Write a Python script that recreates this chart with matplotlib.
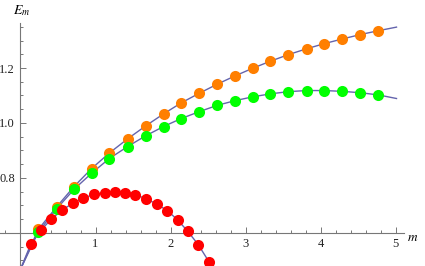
import matplotlib
matplotlib.use("Agg")
import matplotlib.pyplot as plt
from matplotlib.ticker import MultipleLocator
import numpy as np

plt.rcParams["font.family"] = "Liberation Serif"
plt.rcParams["mathtext.fontset"] = "stix"

# orange / green series share the same m values
m_og = [0.237, 0.484, 0.712, 0.948, 1.182, 1.427, 1.667, 1.906, 2.141, 2.381,
        2.62, 2.856, 3.092, 3.331, 3.571, 3.811, 4.05, 4.29, 4.53, 4.77]
e_orange = [0.612, 0.695, 0.768, 0.834, 0.890, 0.942, 0.989, 1.033, 1.073, 1.108,
            1.141, 1.171, 1.199, 1.225, 1.249, 1.270, 1.289, 1.306, 1.322, 1.336]
e_green = [0.603, 0.688, 0.758, 0.817, 0.870, 0.914, 0.953, 0.987, 1.016, 1.041,
           1.064, 1.081, 1.095, 1.106, 1.114, 1.118, 1.118, 1.115, 1.110, 1.102]

m_red = [0.136, 0.269, 0.41, 0.549, 0.695, 0.836, 0.979, 1.121, 1.258, 1.392,
         1.529, 1.671, 1.813, 1.955, 2.093, 2.23, 2.368, 2.51]
e_red = [0.558, 0.609, 0.649, 0.682, 0.707, 0.726, 0.740, 0.746, 0.749, 0.746,
         0.739, 0.724, 0.705, 0.681, 0.647, 0.605, 0.557, 0.495]

# where the fitted curves start and end
curve_start = (0.0, 0.467)
orange_end = (5.01, 1.349)
green_end = (5.01, 1.089)
red_end = (2.62, 0.44)

line_col = "#6464ad"

fig = plt.figure(figsize=(4.25, 2.66), dpi=100)
ax = fig.add_axes([0, 0, 404 / 425, 243 / 266])
ax.set_xlim(-0.273, 5.11)
ax.set_ylim(0.479, 1.364)

for m, e, end in [(m_og, e_orange, orange_end), (m_og, e_green, green_end), (m_red, e_red, red_end)]:
    xs = [curve_start[0]] + list(m) + [end[0]]
    ys = [curve_start[1]] + list(e) + [end[1]]
    ax.plot(xs, ys, color=line_col, lw=1.0, zorder=2)

ax.plot(m_og, e_orange, "o", color="#ff7f00", ms=8, mec="none", zorder=3)
ax.plot(m_og, e_green, "o", color="#00ff00", ms=8, mec="none", zorder=4)
ax.plot(m_red, e_red, "o", color="#ff0000", ms=8, mec="none", zorder=5)

for s in ["top", "right"]:
    ax.spines[s].set_visible(False)
ax.spines["left"].set_position(("data", 0))
ax.spines["bottom"].set_position(("data", 0.6))
for s in ["left", "bottom"]:
    ax.spines[s].set_color("#777777")
    ax.spines[s].set_linewidth(0.8)

ax.set_xticks([1, 2, 3, 4, 5])
ax.set_yticks([0.8, 1.0, 1.2])
ax.set_yticklabels(["0.8", "1.0", "1.2"])
ax.xaxis.set_minor_locator(MultipleLocator(0.2))
ax.yaxis.set_minor_locator(MultipleLocator(0.05))
ax.tick_params(which="both", direction="in", color="#777777", labelsize=9,
               labelcolor="#222222", width=0.7)
ax.tick_params(which="major", length=4, pad=4)
ax.tick_params(which="minor", length=2.5)
ax.patch.set_visible(False)

fig.text(413 / 425, 1 - 238 / 266, "$m$", fontsize=9.5, ha="center", va="center")
fig.text(22 / 425, 1 - 11 / 266, "$E_m$", fontsize=10, ha="center", va="center")

fig.savefig("out.png", dpi=100)
